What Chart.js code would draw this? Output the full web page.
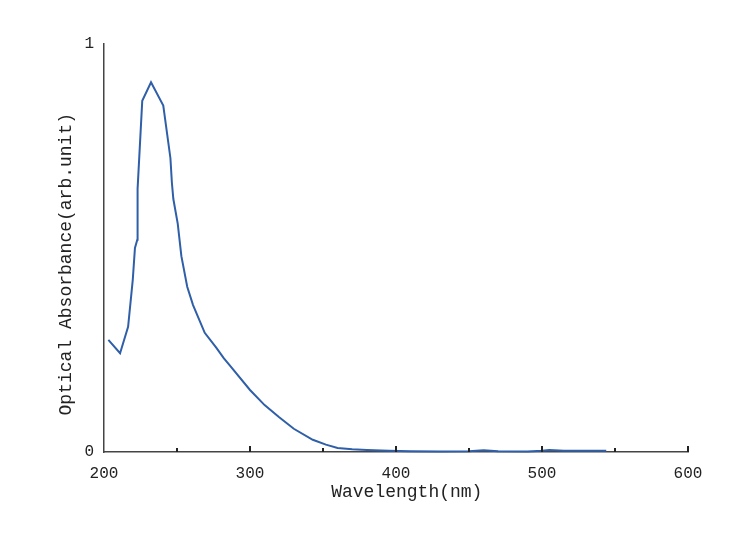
<!DOCTYPE html>
<html>
<head>
<meta charset="utf-8">
<script src="https://cdn.jsdelivr.net/npm/chart.js@4"></script>
<style>
html,body{margin:0;padding:0;background:#fff;}
#wrap{width:752px;height:552px;position:relative;}
</style>
</head>
<body>
<div id="wrap"><canvas id="c"></canvas></div>
<script>
// Data
const wavelength = [203, 211, 216.5, 219.7, 221.2, 222.8, 223, 226.2, 232.2, 240.6, 245.5, 246.5, 247.5, 250.5, 253, 257, 261, 269, 277, 282, 286, 300, 310, 320, 330, 343, 352, 360, 370, 380, 395, 410, 430, 450, 460, 470, 490, 500, 505, 515, 530, 544];
const absorbance = [0.275, 0.242, 0.307, 0.422, 0.5, 0.52, 0.645, 0.861, 0.906, 0.849, 0.72, 0.66, 0.62, 0.56, 0.48, 0.405, 0.36, 0.292, 0.255, 0.23, 0.213, 0.152, 0.115, 0.085, 0.057, 0.03, 0.018, 0.01, 0.007, 0.005, 0.003, 0.002, 0.001, 0.002, 0.004, 0.002, 0.001, 0.003, 0.005, 0.003, 0.003, 0.003];
const xTickValues = [250, 300, 350, 400, 450, 500, 550, 600];
const xTitle = '  Wavelength(nm)';
const yTitle = 'Optical Absorbance(arb.unit)   ';

const points = wavelength.map((w, i) => ({x: w, y: absorbance[i]}));

const inwardTicks = {
  id: 'inwardTicks',
  afterDraw(chart) {
    const xs = chart.scales.x;
    const ctx = chart.ctx;
    const y0 = xs.top;
    ctx.save();
    ctx.strokeStyle = '#222';
    ctx.lineWidth = 2;
    xTickValues.forEach(v => {
      const px = xs.getPixelForValue(v);
      const len = (v % 100 === 0) ? 6 : 4;
      ctx.beginPath();
      ctx.moveTo(px, y0);
      ctx.lineTo(px, y0 - len);
      ctx.stroke();
    });
    ctx.restore();
  }
};

new Chart(document.getElementById('c'), {
  type: 'scatter',
  data: {
    datasets: [{
      data: points,
      showLine: true,
      borderColor: '#2f5fa8',
      backgroundColor: '#2f5fa8',
      borderWidth: 2,
      pointRadius: 0,
      tension: 0,
      clip: false
    }]
  },
  options: {
    responsive: true,
    maintainAspectRatio: false,
    animation: false,
    layout: {padding: {top: 44, right: 64, left: 0, bottom: 0}},
    plugins: {legend: {display: false}, tooltip: {enabled: false}},
    scales: {
      x: {
        type: 'linear',
        min: 200, max: 600,
        afterFit(s) { s.height = 100; },
        grid: {display: false, drawTicks: false},
        border: {display: true, color: '#444', width: 1.5},
        ticks: {
          stepSize: 50,
          padding: 12,
          maxRotation: 0,
          autoSkip: false,
          color: '#222',
          font: {family: 'Liberation Mono', size: 16},
          callback: v => (v % 100 === 0 ? String(v) : '')
        },
        title: {
          display: true,
          text: xTitle,
          color: '#222',
          font: {family: 'Liberation Mono', size: 18},
          padding: {top: 0, bottom: 49}
        }
      },
      y: {
        type: 'linear',
        min: 0, max: 1,
        afterFit(s) { s.width = 104; },
        grid: {display: false, drawTicks: false},
        border: {display: true, color: '#444', width: 1.5},
        ticks: {
          stepSize: 1,
          padding: 10,
          color: '#222',
          font: {family: 'Liberation Mono', size: 16}
        },
        title: {
          display: true,
          text: yTitle,
          color: '#222',
          font: {family: 'Liberation Mono', size: 18},
          padding: {top: 55, bottom: 0}
        }
      }
    }
  },
  plugins: [inwardTicks]
});
</script>
</body>
</html>
